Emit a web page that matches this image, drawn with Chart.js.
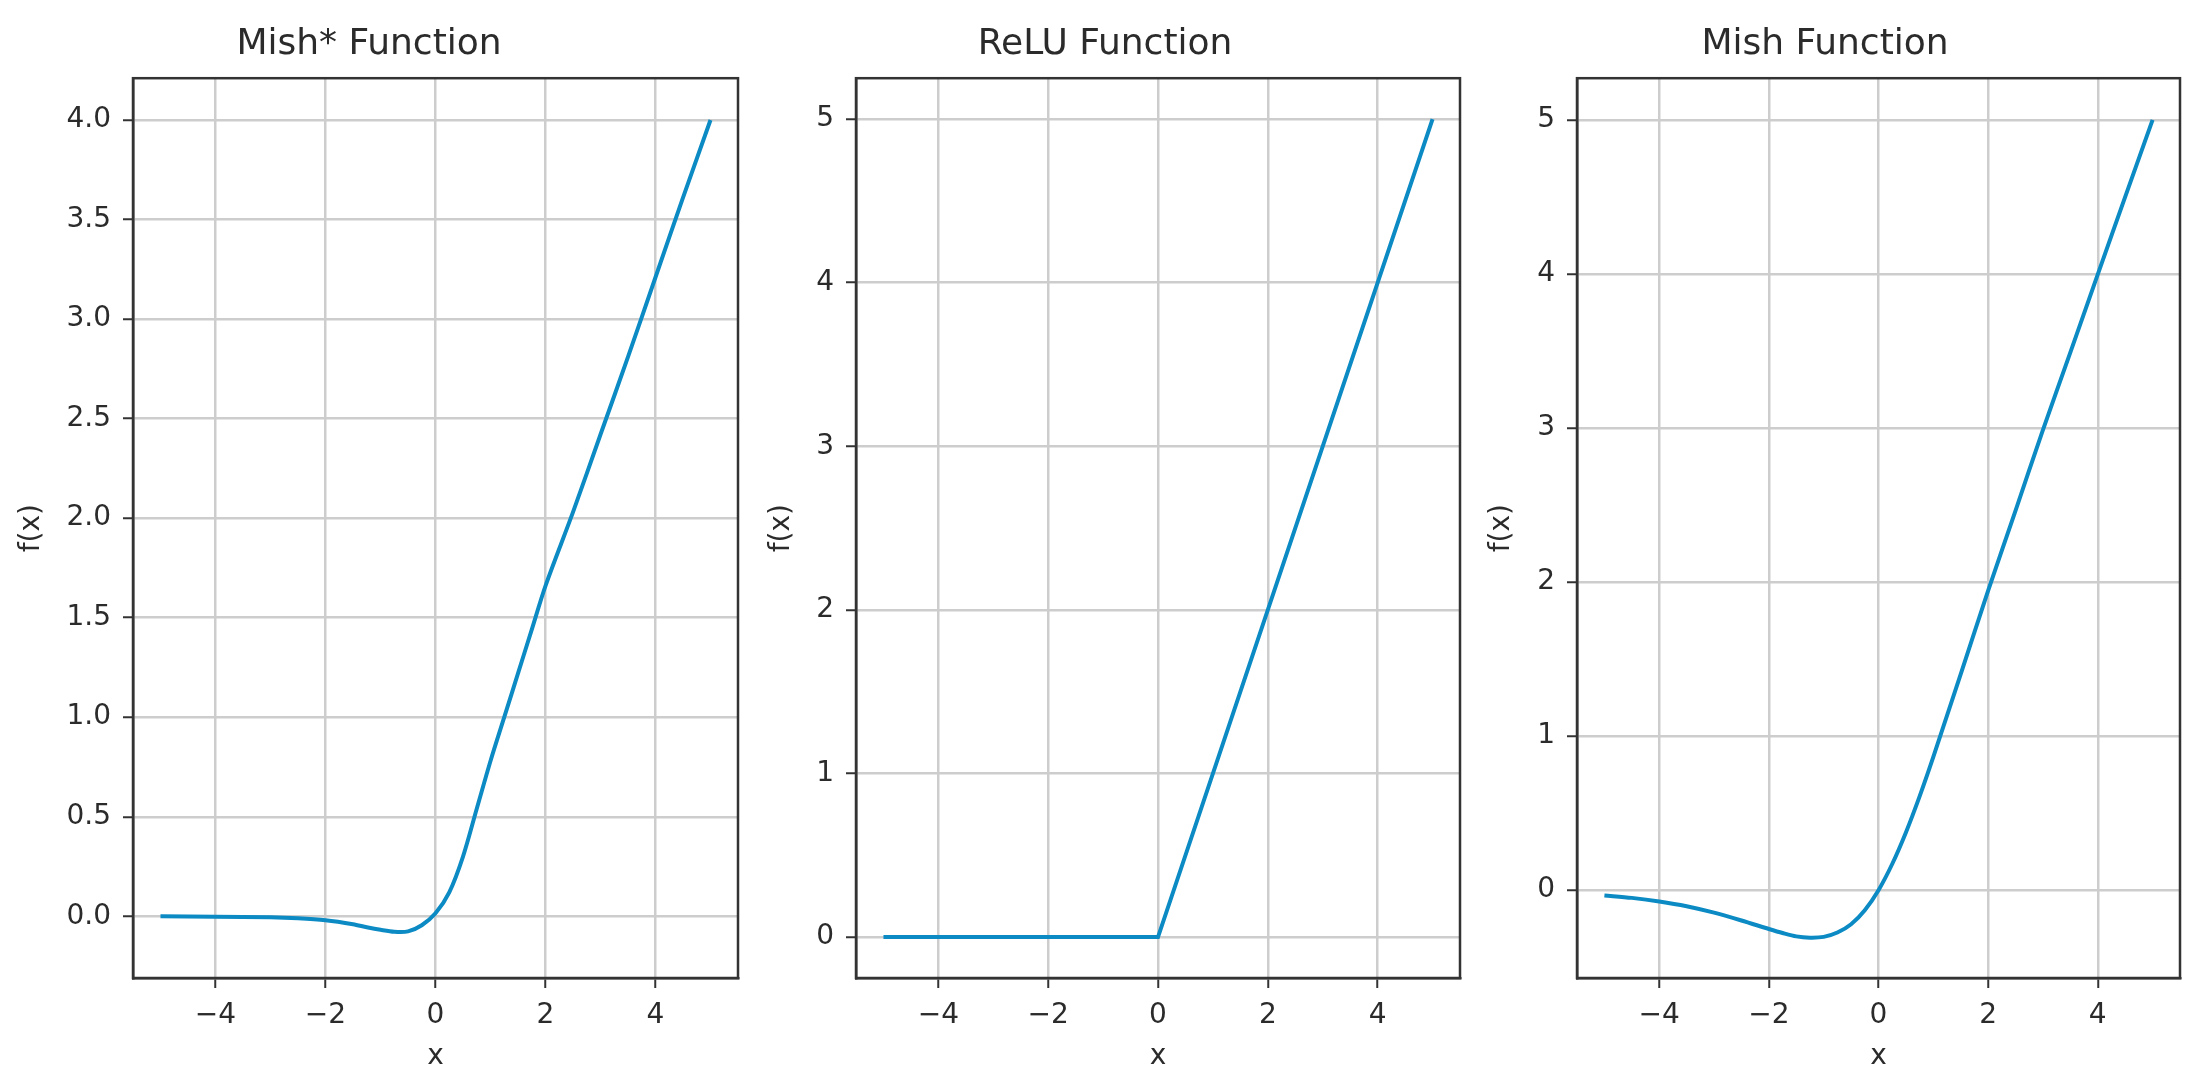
<!DOCTYPE html>
<html>
<head>
<meta charset="utf-8">
<title>Activation functions</title>
<script src="https://cdn.jsdelivr.net/npm/chart.js@4.4.1/dist/chart.umd.min.js"></script>
<style>
  html, body { margin: 0; padding: 0; background: #fff; }
  #wrap { position: relative; width: 2200px; height: 1088px; }
  .panel { position: absolute; top: 0; height: 1088px; }
  #p1 { left: 0; width: 750px; }
  #p2 { left: 750px; width: 720px; }
  #p3 { left: 1470px; width: 730px; }
</style>
</head>
<body>
<div id="wrap">
  <div class="panel" id="p1"><canvas id="mishStar"></canvas></div>
  <div class="panel" id="p2"><canvas id="relu"></canvas></div>
  <div class="panel" id="p3"><canvas id="mish"></canvas></div>
</div>
<script>
// data
const xTicks = [-4, -2, 0, 2, 4];

const mishStarX = [-5, -4, -3, -2.5, -2, -1.5, -1.25, -1, -0.75, -0.5, -0.25, 0, 0.25, 0.5, 0.75, 1, 1.25, 1.5, 1.75, 2, 2.5, 3, 3.5, 4, 4.5, 5];
const mishStarY = [0, -0.002, -0.005, -0.01, -0.02, -0.04, -0.055, -0.068, -0.078, -0.076, -0.045, 0.015, 0.12, 0.3, 0.54, 0.78, 1.0, 1.22, 1.44, 1.66, 2.03, 2.42, 2.81, 3.21, 3.61, 4.0];
const mishStarTicks = [0, 0.5, 1, 1.5, 2, 2.5, 3, 3.5, 4];

const reluX = [-5, 0, 5];
const reluY = [0, 0, 5];
const reluTicks = [0, 1, 2, 3, 4, 5];

const mishX = [-5, -4.5, -4, -3.5, -3, -2.5, -2, -1.75, -1.5, -1.25, -1, -0.75, -0.5, -0.25, 0, 0.25, 0.5, 0.75, 1, 1.5, 2, 2.5, 3, 3.5, 4, 4.5, 5];
const mishY = [-0.034, -0.05, -0.073, -0.104, -0.146, -0.197, -0.252, -0.278, -0.3, -0.308, -0.303, -0.275, -0.221, -0.13, 0, 0.17, 0.375, 0.609, 0.865, 1.403, 1.944, 2.464, 2.987, 3.49, 3.997, 4.5, 5.0];
const mishTicks = [0, 1, 2, 3, 4, 5];

const FONT = "'DejaVu Sans', sans-serif";
const TEXT = "#2b2b2b";
const LINE = "#0b8ac4";

// garis kotak di sekeliling area plot
const framePlugin = {
  id: "frame",
  afterDraw(chart) {
    const { ctx, chartArea: a } = chart;
    ctx.save();
    ctx.strokeStyle = "#333";
    ctx.lineWidth = 2.5;
    ctx.strokeRect(a.left, a.top, a.right - a.left, a.bottom - a.top);
    ctx.restore();
  },
};

function fmt(v, digits) {
  const s = Math.abs(v).toFixed(digits);
  return v < 0 ? "\u2212" + s : s;
}

function makePanel(id, title, xs, ys, yTicks, yRange, yDigits, yAxisWidth, padRight, curved) {
  const points = xs.map((x, i) => ({ x: x, y: ys[i] }));
  return new Chart(document.getElementById(id), {
    type: "line",
    data: {
      datasets: [
        {
          data: points,
          borderColor: LINE,
          borderWidth: 4,
          pointRadius: 0,
          tension: curved ? 0.3 : 0,
        },
      ],
    },
    options: {
      responsive: true,
      maintainAspectRatio: false,
      animation: false,
      layout: { padding: { top: 0, left: 0, right: padRight, bottom: 0 } },
      plugins: {
        legend: { display: false },
        tooltip: { enabled: false },
        title: {
          display: true,
          text: title,
          color: TEXT,
          font: { family: FONT, size: 36, weight: "normal" },
          padding: { top: 23, bottom: 12 },
        },
      },
      scales: {
        x: {
          type: "linear",
          min: -5.5,
          max: 5.5,
          afterBuildTicks: (scale) => {
            scale.ticks = xTicks.map((v) => ({ value: v }));
          },
          afterFit: (scale) => {
            scale.height = 110;
          },
          ticks: {
            color: TEXT,
            font: { family: FONT, size: 28 },
            padding: 11,
            maxRotation: 0,
            callback: (v) => fmt(v, 0),
          },
          grid: { color: "#cdcdcd", lineWidth: 2.5, tickLength: 10, tickColor: "#333", tickWidth: 2 },
          border: { display: true, color: "#333", width: 2.5 },
          title: {
            display: true,
            text: "x",
            color: TEXT,
            font: { family: FONT, size: 28 },
            padding: { top: 0, bottom: 14 },
          },
        },
        y: {
          min: yRange[0],
          max: yRange[1],
          afterBuildTicks: (scale) => {
            scale.ticks = yTicks.map((v) => ({ value: v }));
          },
          afterFit: (scale) => {
            scale.width = yAxisWidth;
          },
          ticks: {
            color: TEXT,
            font: { family: FONT, size: 28 },
            padding: 12,
            callback: (v) => fmt(v, yDigits),
          },
          grid: { color: "#cdcdcd", lineWidth: 2.5, tickLength: 10, tickColor: "#333", tickWidth: 2 },
          border: { display: true, color: "#333", width: 2.5 },
          title: {
            display: true,
            text: "f(x)",
            color: TEXT,
            font: { family: FONT, size: 28 },
            padding: { top: 15, bottom: 0 },
          },
        },
      },
    },
    plugins: [framePlugin],
  });
}

makePanel("mishStar", "Mish* Function", mishStarX, mishStarY, mishStarTicks, [-0.31, 4.21], 1, 133, 12, true);
makePanel("relu", "ReLU Function", reluX, reluY, reluTicks, [-0.25, 5.25], 0, 106, 10, false);
makePanel("mish", "Mish Function", mishX, mishY, mishTicks, [-0.57, 5.27], 0, 107, 20, true);
</script>
</body>
</html>
